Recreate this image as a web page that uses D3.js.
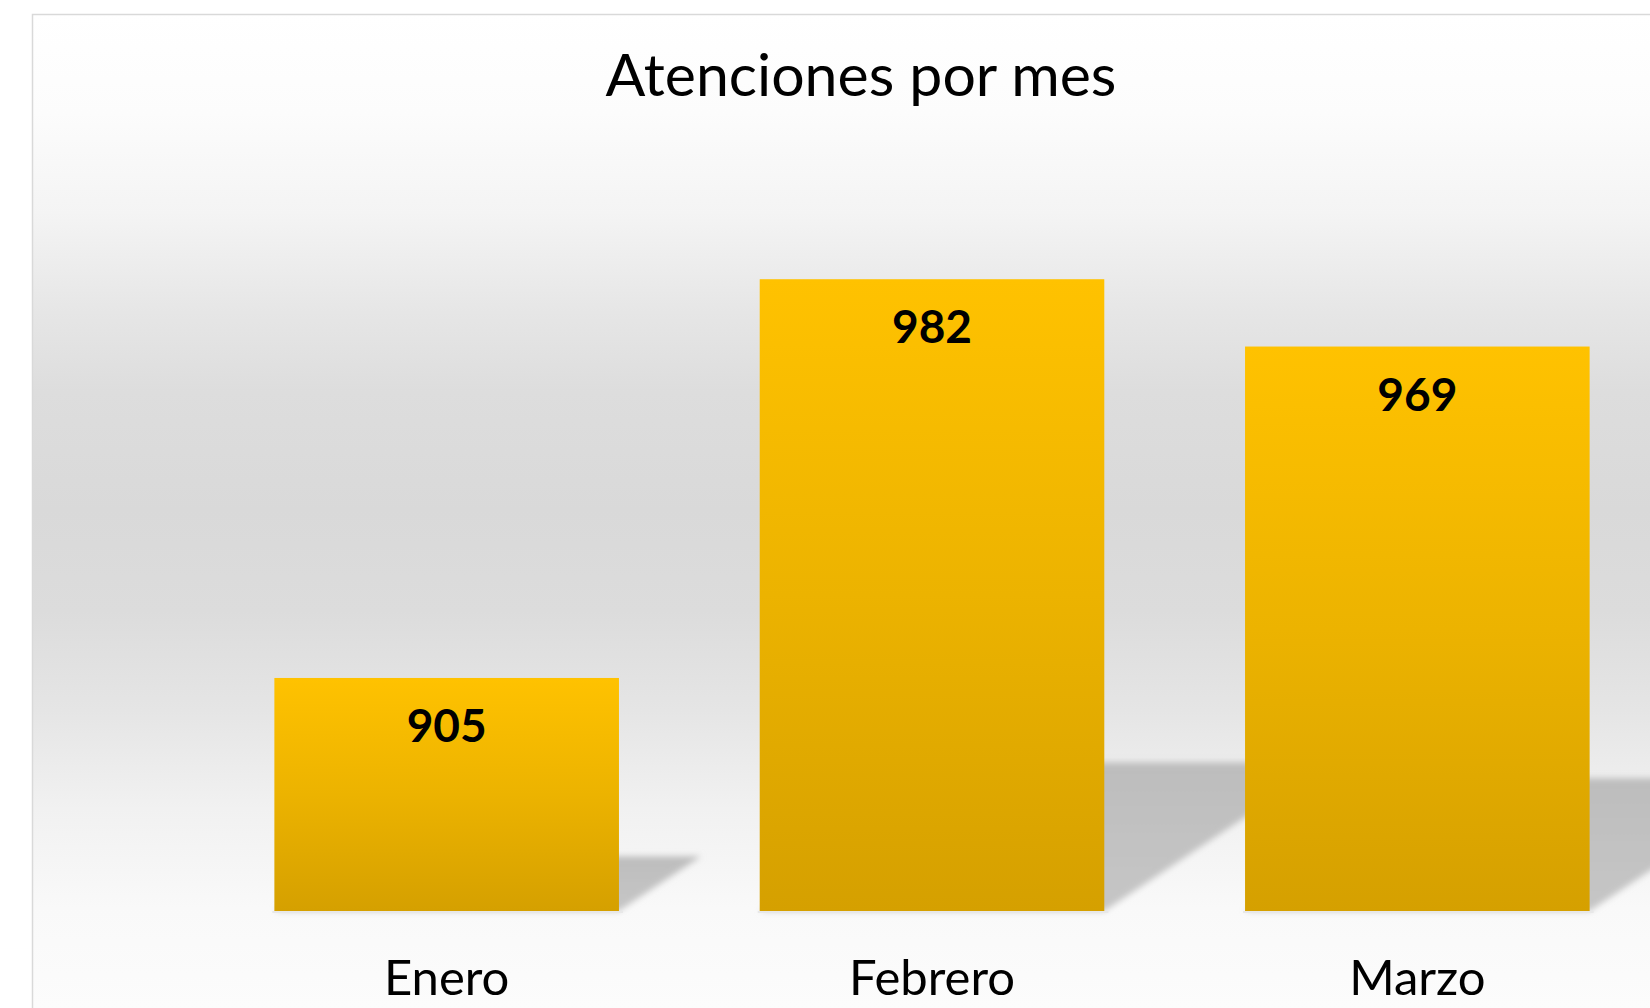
<!DOCTYPE html>
<html>
<head>
<meta charset="utf-8">
<script src="https://cdn.jsdelivr.net/npm/d3@7"></script>
<style>
  body { margin: 0; background: #fff; }
  svg { display: block; }
  text { font-family: Lato, "Open Sans", sans-serif; fill: #000; }
</style>
</head>
<body>
<script>
const months = ['Enero', 'Febrero', 'Marzo'];
const values = [905, 982, 969];
const yDomain = [860, 1000];

const width = 1650;
const height = 1008;

const svg = d3.select('body')
    .append('svg')
    .attr('width', width)
    .attr('height', height);

const defs = svg.append('defs');

// chart area background, light grey band in the middle
const bg = defs.append('linearGradient')
    .attr('id', 'bg')
    .attr('gradientUnits', 'userSpaceOnUse')
    .attr('x1', 0).attr('y1', 14)
    .attr('x2', 0).attr('y2', 1008);
[[0, '#ffffff'], [0.1, '#fcfcfc'], [0.2, '#f4f4f4'], [0.3, '#e6e6e6'], [0.38, '#dddddd'],
 [0.5, '#d9d9d9'], [0.6, '#dcdcdc'], [0.7, '#e5e5e5'], [0.8, '#f1f1f1'], [0.9, '#f9f9f9'], [1, '#fcfcfc']]
    .forEach(s => bg.append('stop').attr('offset', s[0]).attr('stop-color', s[1]));

const barGrad = defs.append('linearGradient')
    .attr('id', 'bar')
    .attr('x1', 0).attr('y1', 0)
    .attr('x2', 0).attr('y2', 1);
barGrad.append('stop').attr('offset', 0).attr('stop-color', '#ffc200');
barGrad.append('stop').attr('offset', 0.5).attr('stop-color', '#ecb300');
barGrad.append('stop').attr('offset', 1).attr('stop-color', '#d5a000');

const shadowGrad = defs.append('linearGradient')
    .attr('id', 'shadow')
    .attr('x1', 0).attr('y1', 0)
    .attr('x2', 0).attr('y2', 1);
shadowGrad.append('stop').attr('offset', 0).attr('stop-color', '#bdbdbd');
shadowGrad.append('stop').attr('offset', 1).attr('stop-color', '#c6c6c6');

defs.append('filter')
    .attr('id', 'blur')
    .attr('x', '-20%').attr('y', '-20%')
    .attr('width', '140%').attr('height', '140%')
    .append('feGaussianBlur')
    .attr('stdDeviation', 3);

svg.append('rect')
    .attr('x', 32.5)
    .attr('y', 14.5)
    .attr('width', 1700)
    .attr('height', 1100)
    .attr('fill', 'url(#bg)')
    .attr('stroke', '#d9d9d9')
    .attr('stroke-width', 1.5);

svg.append('text')
    .attr('x', 861)
    .attr('y', 96)
    .attr('text-anchor', 'middle')
    .attr('font-size', 59)
    .text('Atenciones por mes');

const xScale = d3.scaleBand()
    .domain(months)
    .range([204, 1660])
    .paddingInner(0.29)
    .paddingOuter(0.145);

const yScale = d3.scaleLinear()
    .domain(yDomain)
    .range([911, 186]);

const base = yScale(yDomain[0]);
const skew = 1.5;
const shadowRatio = 0.235;

// perspective shadows cast to the right of each bar
svg.selectAll('.shadow')
    .data(values)
    .enter()
    .append('path')
    .attr('class', 'shadow')
    .attr('fill', 'url(#shadow)')
    .attr('filter', 'url(#blur)')
    .attr('d', (d, i) => {
        const x0 = xScale(months[i]);
        const x1 = x0 + xScale.bandwidth();
        const h = (base - yScale(d)) * shadowRatio;
        return `M${x0},${base} L${x1},${base} L${x1 + skew * h},${base - h} L${x0 + skew * h},${base - h} Z`;
    });

// faint line under each bar
svg.selectAll('.under')
    .data(values)
    .enter()
    .append('rect')
    .attr('class', 'under')
    .attr('x', (d, i) => xScale(months[i]) - 2)
    .attr('y', base)
    .attr('width', xScale.bandwidth() + 6)
    .attr('height', 2)
    .attr('fill', '#e8e8e8');

svg.selectAll('.bar')
    .data(values)
    .enter()
    .append('rect')
    .attr('class', 'bar')
    .attr('x', (d, i) => xScale(months[i]))
    .attr('y', d => yScale(d))
    .attr('width', xScale.bandwidth())
    .attr('height', d => base - yScale(d))
    .attr('fill', 'url(#bar)');

svg.selectAll('.value')
    .data(values)
    .enter()
    .append('text')
    .attr('class', 'value')
    .attr('x', (d, i) => xScale(months[i]) + xScale.bandwidth() / 2)
    .attr('y', d => yScale(d) + 64)
    .attr('text-anchor', 'middle')
    .attr('font-size', 46)
    .attr('font-weight', 'bold')
    .text(d => d);

const xAxis = d3.axisBottom(xScale).tickSize(0).tickPadding(0);

svg.append('g')
    .attr('class', 'axis')
    .attr('transform', `translate(0, ${base})`)
    .call(xAxis)
    .call(g => g.select('.domain').remove())
    .call(g => g.selectAll('text')
        .attr('dy', null)
        .attr('y', 84)
        .attr('font-size', 49)
        .attr('font-family', 'Lato, "Open Sans", sans-serif')
        .attr('fill', '#000'));
</script>
</body>
</html>
